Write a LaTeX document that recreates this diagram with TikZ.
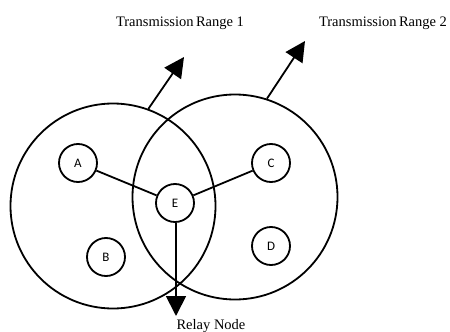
\documentclass[tikz,border=0pt]{standalone}
\usepackage{fontspec}
\setmainfont{Liberation Serif}
\newfontfamily\lblfont{Carlito}
\usetikzlibrary{arrows.meta}
\begin{document}
\begin{tikzpicture}[x=1pt,y=-1pt,
  ln/.style={line width=1.8pt},
  rangecircle/.style={ln,circle,draw,minimum size=205pt,inner sep=0pt},
  station/.style={ln,circle,draw,fill=white,minimum size=38pt,inner sep=0pt,font=\lblfont\fontsize{13}{13}\selectfont},
  arr/.style={ln,-{Triangle[width=20pt,length=20pt]}},
  caption/.style={font=\fontsize{14.5}{15}\selectfont,inner sep=0pt}]
\useasboundingbox (0,0) rectangle (450,332);
\node[rangecircle] (L) at (113,206) {};
\node[rangecircle] (R) at (235,197) {};
\node[station] (A) at (78,163) {A};
\node[station] (B) at (106,257) {B};
\node[station] (C) at (271,163) {C};
\node[station] (D) at (271,246) {D};
\node[station] (E) at (175,203) {E};
\draw[ln] (A) -- (E);
\draw[ln] (C) -- (E);
\coordinate (t1) at (184,57);
\coordinate (t2) at (305,41);
\coordinate (t3) at (176,316);
\draw[arr] (L.70) -- (t1);
\draw[arr] (R.72) -- (t2);
\draw[arr] (E.south -| t3) -- (t3);
\node[caption,anchor=base] (n1) at (180,27) {Transmission\,Range 1};
\node[caption,anchor=base] (n2) at (383,27) {Transmission\,Range 2};
\node[caption,anchor=base] (n3) at (211,329) {Relay Node};
\end{tikzpicture}
\end{document}
